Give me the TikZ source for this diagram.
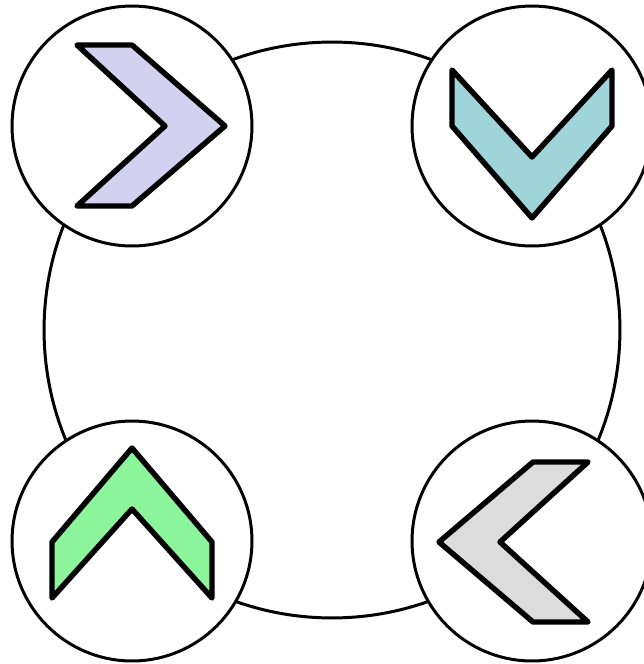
\documentclass[tikz,border=0pt]{standalone}
\usetikzlibrary{positioning}

\definecolor{chevlav}{RGB}{210,210,240}
\definecolor{chevteal}{RGB}{159,212,216}
\definecolor{chevgreen}{RGB}{140,244,154}
\definecolor{chevgray}{RGB}{220,220,220}

\begin{document}
\begin{tikzpicture}[
  x=0.02cm,y=-0.02cm,
  ring/.style={draw,circle,line width=1.7pt,fill=white,inner sep=0pt},
  bigring/.style={ring,minimum size=11.52cm},
  smallring/.style={ring,minimum size=4.8cm},
  chev/.style={draw,line width=3.1pt,line join=round},
]
\useasboundingbox (0,0) rectangle (644,664);

% outer ring
\node[bigring] (hub) at (332,330) {};

% corner rings
\node[smallring] (tl) at (132,126) {};
\node[smallring] (tr) at (532,126) {};
\node[smallring] (bl) at (132,541) {};
\node[smallring] (br) at (532,541) {};

% chevrons
\filldraw[chev,fill=chevlav]
  (77,45) -- (132,45) -- (225,126) -- (132,206) -- (77,206) -- (165,126) -- cycle;
\filldraw[chev,fill=chevteal]
  (452,70) -- (452,126) -- (532,218) -- (612,126) -- (612,70) -- (532,157) -- cycle;
\filldraw[chev,fill=chevgreen]
  (52,598) -- (52,542) -- (132,448) -- (212,542) -- (212,598) -- (132,509) -- cycle;
\filldraw[chev,fill=chevgray]
  (588,462) -- (533,462) -- (439,542) -- (533,622) -- (588,622) -- (500,542) -- cycle;

\end{tikzpicture}
\end{document}
